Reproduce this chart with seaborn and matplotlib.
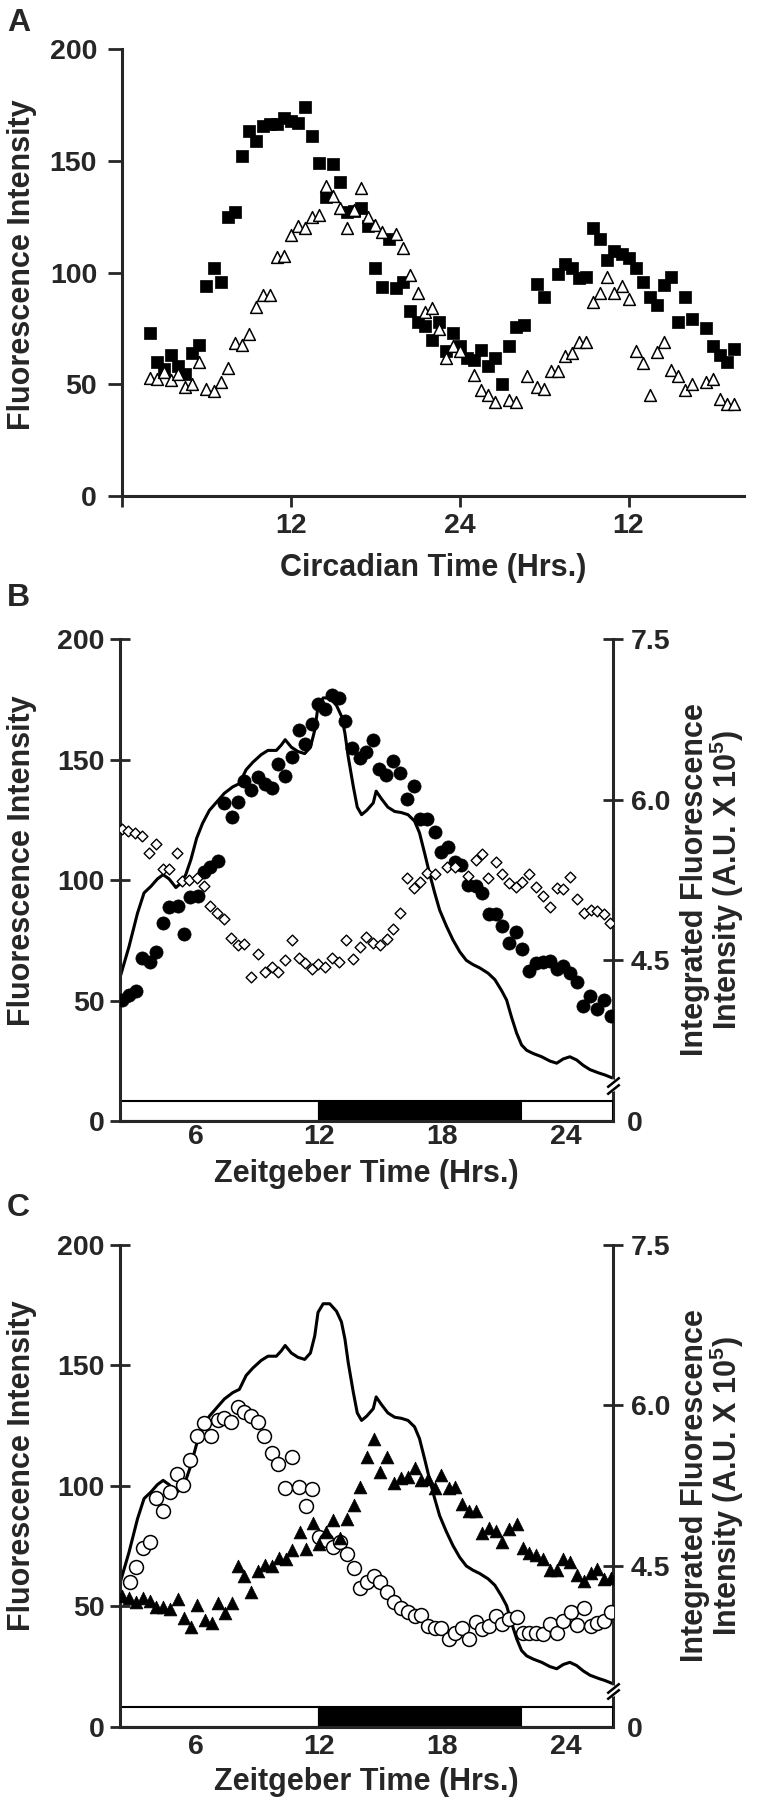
import numpy as np
import matplotlib
matplotlib.use("Agg")
import matplotlib.pyplot as plt
import seaborn as sns

# Panel A - circadian time (hrs) vs fluorescence intensity
ct_hours_sq = [2.0, 2.5, 3.0, 3.5, 4.0, 4.5, 5.0, 5.5, 6.0, 6.5, 7.0, 7.5, 8.0, 8.5, 9.0, 9.5, 10.0, 10.5, 11.0, 11.5,
               12.0, 12.5, 13.0, 13.5, 14.0, 14.5, 15.0, 15.5, 16.0, 16.5, 17.0, 17.5, 18.0, 18.5, 19.0, 19.5, 20.0,
               20.5, 21.0, 21.5, 22.0, 22.5, 23.0, 23.5, 24.0, 24.5, 25.0, 25.5, 26.0, 26.5, 27.0, 27.5, 28.0, 28.6,
               29.5, 30.0, 31.0, 31.5, 32.0, 32.5, 33.0, 33.5, 34.0, 34.5, 35.0, 35.5, 36.0, 36.5, 37.0, 37.5, 38.0,
               38.5, 39.0, 39.5, 40.0, 40.5, 41.5, 42.0, 42.5, 43.0, 43.5]
ct_square = [72.9, 60, 57, 63, 58, 54.5, 64, 67.6, 94, 102, 95.6, 124.7, 127, 152, 163.5, 159, 165.6, 166.7, 166.7, 169,
             168, 167, 174, 161, 149, 134, 148.7, 140.7, 127, 127.6, 129, 120.7, 102, 93.7, 115, 93, 96, 82.8, 78, 76,
             70, 78, 64.7, 73, 67, 62, 61, 65.5, 58, 62, 50, 67, 75.6, 76.4, 95, 89, 99.6, 104, 102, 97.5, 98, 120,
             115, 105.5, 109.5, 108.4, 106.5, 102, 96, 89, 85.7, 94.3, 98, 78, 89, 79.3, 75, 67, 63, 60, 66]
ct_hours_tri = [2.0, 2.5, 3.0, 3.5, 4.0, 4.5, 5.0, 5.5, 6.0, 6.5, 7.0, 7.5, 8.0, 8.5, 9.0, 9.5, 10.0, 10.5, 11.0, 11.5,
                12.0, 12.5, 13.0, 13.5, 14.0, 14.5, 15.0, 15.5, 16.0, 16.5, 17.0, 17.5, 18.0, 18.5, 19.5, 20.0, 20.5,
                21.0, 21.5, 22.0, 22.5, 23.0, 23.5, 24.0, 25.0, 25.5, 26.0, 26.5, 27.5, 28.0, 28.8, 29.5, 30.0, 30.5,
                31.0, 31.5, 32.0, 32.5, 33.0, 33.5, 34.0, 34.5, 35.0, 35.5, 36.0, 36.5, 37.0, 37.5, 38.0, 38.5, 39.0,
                39.5, 40.0, 40.5, 41.5, 42.0, 42.5, 43.0, 43.5]
ct_triangle = [53, 52.4, 55.6, 52, 54.8, 49, 50, 60, 48, 46.8, 51, 57.5, 68.7, 67.6, 72.4, 84.7, 90, 90, 107, 107.6,
               117, 121, 120, 125, 126, 138.8, 134.5, 129, 120, 128, 138, 124.7, 121.5, 118.3, 117.5, 110.8, 99, 91,
               82.5, 84, 74.8, 62, 67, 65, 54.4, 47.3, 45.2, 42, 42.8, 42, 53.6, 48.8, 48, 56, 56, 62.5, 64, 69, 69,
               86.8, 90.8, 98, 91, 94, 88.4, 64.7, 59.6, 45.2, 64.4, 69, 56.4, 53.7, 47.6, 50, 51, 52.4, 43.6, 41.2, 41.2]
ct_ticks = [0, 12, 24, 36]
ct_ticklabels = ["", "12", "24", "12"]

# Panel B - zeitgeber time (hrs)
zt_circ_b = [2.41, 2.74, 3.09, 3.38, 3.74, 4.07, 4.37, 4.69, 5.1, 5.41, 5.7, 6.08, 6.37, 6.7, 7.05, 7.38, 7.74, 8.03,
             8.36, 8.68, 9.04, 9.36, 9.69, 10.01, 10.34, 10.66, 10.99, 11.31, 11.64, 11.96, 12.29, 12.62, 12.94, 13.27,
             13.59, 13.97, 14.29, 14.62, 14.93, 15.26, 15.58, 15.94, 16.26, 16.59, 16.88, 17.24, 17.62, 17.91, 18.27,
             18.59, 18.92, 19.24, 19.62, 19.94, 20.26, 20.59, 20.92, 21.24, 21.57, 21.89, 22.22, 22.55, 22.87, 23.23,
             23.55, 23.87, 24.23, 24.56, 24.85, 25.18, 25.53, 25.86, 26.19]
fl_circ_b = [50.2, 52.3, 54, 67.5, 66, 70.3, 82, 89, 89.2, 77.6, 93, 93.5, 103.4, 105.3, 108, 131.8, 126, 132.5, 141.2,
             137.3, 142.9, 140, 138.3, 148, 143, 151, 162.2, 156.4, 164.6, 173, 170.8, 176.8, 175.7, 166, 154.7, 150.8,
             153.3, 158, 145.9, 143.6, 149.4, 144.5, 133.5, 139, 125.2, 125.2, 120, 111.7, 113.8, 107.3, 106.2, 97.9,
             97.5, 94.5, 85.8, 85.8, 80.9, 73.7, 78.5, 71.2, 62.4, 65.7, 66.1, 66.4, 62.9, 64.3, 61.5, 57.8, 47.7, 52,
             46.5, 50.2, 43.7]
zt_diam_b = [2.38, 2.71, 3.03, 3.36, 3.72, 4.04, 4.37, 4.69, 5.05, 5.34, 5.67, 6.03, 6.37, 6.68, 7.01, 7.35, 7.71, 8.03,
             8.36, 8.68, 9.04, 9.36, 9.69, 10.01, 10.34, 10.66, 10.99, 11.31, 11.64, 11.96, 12.29, 12.62, 12.94, 13.32,
             13.64, 13.97, 14.29, 14.62, 14.96, 15.29, 15.61, 15.94, 16.26, 16.59, 16.91, 17.24, 17.62, 18.22, 18.62,
             19.24, 19.62, 19.94, 20.21, 20.59, 20.92, 21.24, 21.57, 21.89, 22.22, 22.55, 22.87, 23.23, 23.55, 23.87,
             24.2, 24.56, 24.88, 25.21, 25.53, 25.86, 26.15]
fl_diam_b = [121, 120.5, 119.6, 118.3, 111.3, 115, 104.6, 104.4, 111.3, 99.7, 100, 100.7, 97.5, 89.2, 86.2, 83.7, 75.8,
             73, 73.4, 59.9, 69.3, 62, 64, 62, 66.8, 75.1, 67.5, 65.7, 62.9, 65.1, 63.8, 67.5, 65.9, 75.1, 67.1, 72.3,
             76.5, 73.7, 73, 75.4, 79.5, 86.5, 100.7, 96.5, 99.3, 103, 102.5, 105.5, 105.5, 101.7, 108.3, 110.8, 100.7,
             107.3, 102.5, 98.9, 97.2, 99.1, 102.5, 97, 93.4, 88.7, 96.5, 96.1, 101.1, 92, 86.2, 87.6, 87.1, 85.9, 82.3]

# Integrated fluorescence (A.U. x 10^5), same trace in B and C
zt_integ = [2.33, 2.74, 3.15, 3.47, 3.8, 4.12, 4.4, 4.69, 5.02, 5.26, 5.5, 5.75, 6.03, 6.32, 6.65, 6.97, 7.38, 7.79,
            8.11, 8.44, 8.77, 9.17, 9.5, 9.91, 10.15, 10.34, 10.64, 10.96, 11.29, 11.57, 11.78, 11.94, 12.19, 12.51,
            12.84, 13.08, 13.25, 13.41, 13.66, 13.85, 14.06, 14.31, 14.63, 14.77, 15.02, 15.34, 15.67, 15.99, 16.32,
            16.64, 16.88, 17.13, 17.37, 17.62, 17.86, 18.19, 18.51, 18.84, 19.16, 19.49, 19.81, 20.22, 20.55, 20.87,
            21.12, 21.36, 21.61, 21.85, 22.1, 22.42, 22.83, 23.23, 23.56, 23.88, 24.2, 24.53, 24.85, 25.18, 25.59,
            25.91, 26.3]
integ = [4.36, 4.63, 4.94, 5.13, 5.19, 5.26, 5.30, 5.26, 5.18, 5.22, 5.30, 5.44, 5.64, 5.78, 5.90, 5.97, 6.06, 6.12,
         6.15, 6.28, 6.35, 6.42, 6.46, 6.46, 6.51, 6.56, 6.49, 6.45, 6.43, 6.49, 6.65, 6.87, 6.95, 6.95, 6.88, 6.78,
         6.62, 6.40, 6.12, 5.93, 5.86, 5.90, 5.97, 6.08, 6.01, 5.93, 5.89, 5.88, 5.86, 5.80, 5.69, 5.50, 5.31, 5.13,
         4.97, 4.82, 4.69, 4.58, 4.50, 4.46, 4.43, 4.38, 4.32, 4.22, 4.13, 3.97, 3.82, 3.71, 3.66, 3.63, 3.60, 3.56,
         3.54, 3.58, 3.60, 3.57, 3.52, 3.48, 3.45, 3.43, 3.40]

# Panel C
zt_open_c = [2.77, 3.1, 3.42, 3.75, 4.07, 4.4, 4.72, 5.06, 5.37, 5.7, 6.06, 6.38, 6.72, 7.05, 7.37, 7.7, 8.02, 8.35,
             8.67, 9.0, 9.32, 9.7, 10.01, 10.34, 10.66, 10.99, 11.36, 11.66, 12.01, 12.34, 12.66, 12.99, 13.35, 13.67,
             14.0, 14.32, 14.65, 14.97, 15.29, 15.62, 16.0, 16.32, 16.65, 16.97, 17.3, 17.62, 17.95, 18.31, 18.63,
             18.96, 19.28, 19.61, 19.93, 20.26, 20.6, 20.92, 21.25, 21.61, 21.9, 22.23, 22.55, 22.91, 23.23, 23.56,
             23.88, 24.24, 24.57, 24.89, 25.22, 25.54, 25.87, 26.19]
fl_open_c = [60.2, 66.2, 74.1, 76.8, 94.8, 89.7, 97.6, 104.8, 100.4, 110.5, 120.7, 126, 120.7, 127.4, 128.1, 126.3,
             132.7, 130.8, 128.8, 126.3, 120.7, 113.5, 109.1, 99, 112.1, 99.4, 91.6, 98.6, 78.9, 77.5, 74.7, 76.8,
             71.7, 65.8, 57.5, 60.2, 62.6, 60.2, 56, 51.9, 49.1, 47.7, 45.9, 46.4, 41.8, 40.8, 40.8, 36.3, 39, 40.8,
             36.3, 43.6, 40.4, 41.8, 45.9, 42.6, 44.6, 45.4, 39, 39, 39, 38.3, 42.6, 39, 43.9, 47.7, 42.2, 49.1, 41.8,
             42.9, 43.9, 47.7]
zt_tri_c = [2.41, 2.74, 3.1, 3.42, 3.75, 4.07, 4.4, 4.72, 5.1, 5.42, 5.75, 6.07, 6.43, 6.76, 7.08, 7.41, 7.73, 8.02,
            8.35, 8.67, 9.03, 9.36, 9.7, 10.03, 10.36, 10.68, 11.04, 11.36, 11.69, 12.01, 12.34, 12.66, 13.02, 13.35,
            13.67, 14.0, 14.32, 14.65, 14.97, 15.29, 15.62, 16.0, 16.32, 16.65, 16.97, 17.3, 17.62, 17.95, 18.31,
            18.63, 18.96, 19.28, 19.61, 19.93, 20.26, 20.6, 20.92, 21.25, 21.61, 21.9, 22.23, 22.55, 22.91, 23.23,
            23.56, 23.88, 24.2, 24.57, 24.89, 25.22, 25.54, 25.87, 26.19]
fl_tri_c = [54.3, 53.3, 51.9, 53.3, 52.3, 49.8, 49.6, 48.7, 52.9, 45, 41.3, 50.5, 44.3, 42.9, 51.2, 47.1, 51.2, 66.7,
            62.6, 56, 64.4, 67.1, 66.7, 69.9, 69.5, 73.4, 80.6, 73.7, 84.5, 75.9, 80.6, 85.8, 78.2, 86.1, 92.1, 99.4,
            111.9, 119.4, 105.9, 111.9, 101.3, 103.2, 103.6, 107.3, 102.2, 102.7, 99, 104.5, 99, 99.4, 92.5, 89.3,
            89.3, 80.3, 82.4, 81.4, 76.8, 82, 84.2, 74.1, 72, 71.3, 69.5, 64.8, 65.1, 69.5, 68.5, 63, 60.6, 63.7,
            65.4, 61.2, 61.6]

zt_ticks = [6, 12, 18, 24]
# light/dark bar (light, dark, light)
ld_edges = [2.3, 12.0, 21.8, 26.3]
ld_colors = ["white", "black", "white"]

sns.set_theme(style="ticks")
plt.rcParams["font.family"] = ["Liberation Sans", "DejaVu Sans"]
plt.rcParams["font.weight"] = "bold"
plt.rcParams["axes.labelweight"] = "bold"
plt.rcParams["mathtext.fontset"] = "custom"
plt.rcParams["mathtext.rm"] = "Liberation Sans"
plt.rcParams["mathtext.default"] = "regular"

TICK_FS = 20.5
LABEL_FS = 22
LW = 2.2

fig = plt.figure(figsize=(7.63, 18), dpi=100)
axA = fig.add_axes([0.160, 0.7244, 0.815, 0.2483])
axB = fig.add_axes([0.1573, 0.3772, 0.6461, 0.2678])
axC = fig.add_axes([0.1573, 0.0408, 0.6461, 0.2676])

# ---- Panel A
sns.scatterplot(x=ct_hours_sq, y=ct_square, marker="s", color="black", edgecolor="black",
                linewidth=0.5, s=72, ax=axA, zorder=3)
sns.scatterplot(x=ct_hours_tri, y=ct_triangle, marker="^", color="white", edgecolor="black",
                linewidth=1.1, s=72, ax=axA, zorder=4)
axA.set_xlim(0, 44.2)
axA.set_ylim(0, 200)
axA.set_yticks([0, 50, 100, 150, 200])
axA.set_xticks(ct_ticks, labels=ct_ticklabels)
for s in ["top", "right"]:
    axA.spines[s].set_visible(False)
for s in ["left", "bottom"]:
    axA.spines[s].set_linewidth(LW)
axA.tick_params(axis="y", direction="out", length=10, width=2, labelsize=TICK_FS, pad=8)
axA.tick_params(axis="x", direction="out", length=8, width=2, labelsize=TICK_FS, pad=4)
axA.set_xlabel("Circadian Time (Hrs.)", fontsize=LABEL_FS, va="top")
axA.xaxis.set_label_coords(0.5, -0.128)
axA.set_ylabel("Fluorescence Intensity", fontsize=LABEL_FS)
axA.yaxis.set_label_coords(-0.137, 0.517)


def zt_panel(ax, xlabel_y, xtick_pad):
    # light / dark bar along the bottom
    ax.bar(ld_edges[:-1], 8.3, width=np.diff(ld_edges), align="edge", color=ld_colors,
           edgecolor="black", linewidth=1.5, zorder=1)
    ax.set_xlim(ld_edges[0], ld_edges[-1])
    ax.set_ylim(0, 200)
    ax.set_yticks([0, 50, 100, 150, 200])
    ax.set_xticks(zt_ticks)
    ax.spines["top"].set_visible(False)
    ax.spines["right"].set_visible(False)
    for s in ["left", "bottom"]:
        ax.spines[s].set_linewidth(LW)
    ax.tick_params(axis="y", direction="inout", length=14, width=2, labelsize=TICK_FS, pad=4)
    ax.tick_params(axis="x", length=0, labelsize=TICK_FS, pad=xtick_pad)
    ax.set_xlabel("Zeitgeber Time (Hrs.)", fontsize=LABEL_FS, va="top")
    ax.xaxis.set_label_coords(0.5, xlabel_y)
    ax.set_ylabel("Fluorescence Intensity", fontsize=LABEL_FS)
    ax.yaxis.set_label_coords(-0.168, 0.541)

    ax2 = ax.twinx()
    sns.lineplot(x=zt_integ, y=integ, color="black", linewidth=LW, estimator=None, ax=ax2)
    ax2.set_ylim(3.0, 7.5)
    ax2.set_yticks([4.5, 6.0, 7.5], labels=["4.5", "6.0", "7.5"])
    ax2.set_yticks([3.0], labels=["0"], minor=True)
    ax2.spines["top"].set_visible(False)
    ax2.spines["left"].set_visible(False)
    ax2.spines["bottom"].set_visible(False)
    ax2.spines["right"].set_linewidth(LW)
    ax2.tick_params(axis="y", which="major", direction="inout", length=14, width=2, labelsize=TICK_FS, pad=6)
    ax2.tick_params(axis="y", which="minor", length=0, labelsize=TICK_FS, pad=10)
    ax2.set_ylabel("Integrated Fluorescence\nIntensity (A.U. X 10$^5$)", fontsize=LABEL_FS,
                   linespacing=0.92, multialignment="center")
    ax2.yaxis.set_label_coords(1.135, 0.5)

    # axis break on the right scale
    tr = ax2.get_yaxis_transform()
    ax2.plot([1, 1], [3.30, 3.36], transform=tr, color="white", lw=4, clip_on=False, zorder=5)
    for yy in (3.30, 3.36):
        ax2.plot([1.0], [yy], transform=tr, marker=[(-1, -0.8), (1, 0.8)], ms=9, mew=1.8,
                 color="black", clip_on=False, zorder=6)
    return ax2


zt_panel(axB, -0.078, 2)
sns.scatterplot(x=zt_circ_b, y=fl_circ_b, marker="o", color="black", edgecolor="black",
                linewidth=0.5, s=90, ax=axB, zorder=3)
sns.scatterplot(x=zt_diam_b, y=fl_diam_b, marker="D", color="white", edgecolor="black",
                linewidth=1.0, s=30, ax=axB, zorder=4)

zt_panel(axC, -0.084, 5)
sns.scatterplot(x=zt_open_c, y=fl_open_c, marker="o", color="white", edgecolor="black",
                linewidth=1.1, s=100, ax=axC, zorder=3)
sns.scatterplot(x=zt_tri_c, y=fl_tri_c, marker="^", color="black", edgecolor="black",
                linewidth=0.5, s=85, ax=axC, zorder=4)

# keep the scatter layers of B and C above the twin axes
for ax in (axB, axC):
    ax.set_zorder(2)
    ax.patch.set_visible(False)

for letter, ytop in (("A", 8), ("B", 583), ("C", 1193)):
    fig.text(0.009, 1 - ytop / 1800, letter, fontsize=23, fontweight="bold", va="top", ha="left")

fig.savefig("out.png", dpi=100)
